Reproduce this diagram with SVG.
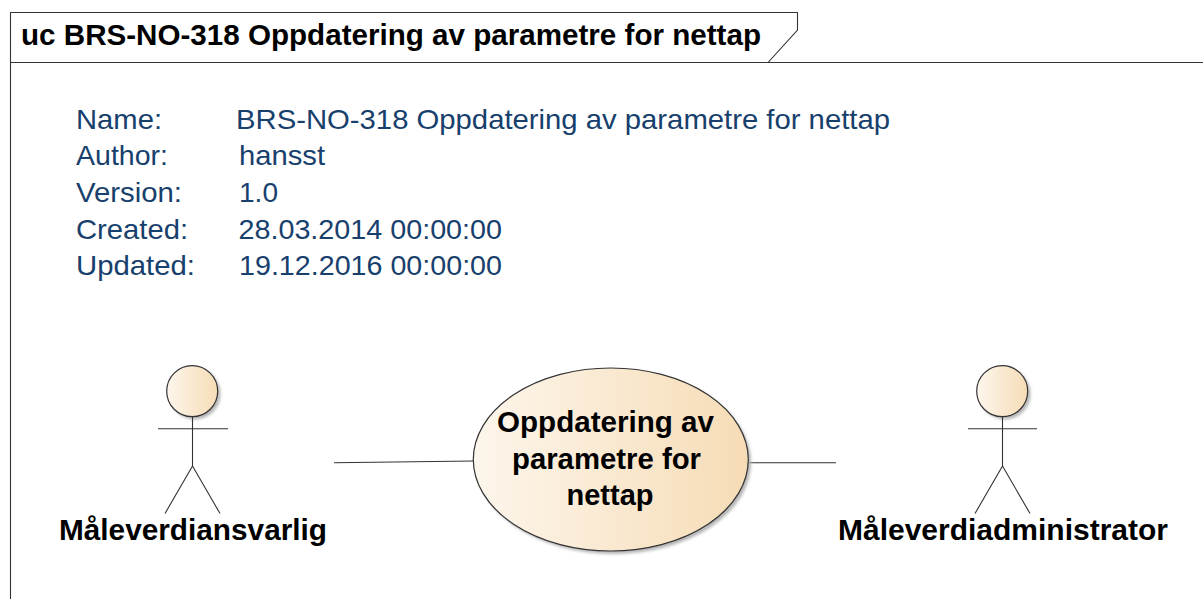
<svg xmlns="http://www.w3.org/2000/svg" width="1203" height="599" viewBox="0 0 1203 599">
<defs>
<linearGradient id="g" x1="0" x2="1" y1="0" y2="0"><stop offset="0" stop-color="#fdf6ec"/><stop offset="1" stop-color="#f6dcb6"/></linearGradient>
<filter id="blur" x="-20%" y="-20%" width="140%" height="140%"><feGaussianBlur stdDeviation="1.500"/></filter>
</defs>
<style>
.l{fill:none;stroke:#333;stroke-width:1.100}
.s{fill:url(#g);stroke:#333;stroke-width:1.200}
.h{fill:#b5b5b5;filter:url(#blur)}
.m{font-family:"Liberation Sans",Arial,sans-serif;font-size:28.500px;fill:#17406d}
.b{font-family:"Liberation Sans",Arial,sans-serif;font-size:29px;font-weight:bold;fill:#000}
</style>
<rect width="1203" height="599" fill="#fff"/>
<g id="frame">
<path class="l" d="M10.500 599V12.500H797.500V30L768 62.500H10.500M768 62.500H1203"/>
<text class="b" x="21" y="45" textLength="740" lengthAdjust="spacingAndGlyphs">uc BRS-NO-318 Oppdatering av parametre for nettap</text>
</g>
<g id="notes">
<text class="m" x="76" y="128.500" textLength="86" lengthAdjust="spacingAndGlyphs">Name:</text><text class="m" x="236" y="128.500" textLength="654" lengthAdjust="spacingAndGlyphs">BRS-NO-318 Oppdatering av parametre for nettap</text>
<text class="m" x="76" y="165" textLength="92" lengthAdjust="spacingAndGlyphs">Author:</text><text class="m" x="239" y="165" textLength="86" lengthAdjust="spacingAndGlyphs">hansst</text>
<text class="m" x="76" y="202" textLength="106" lengthAdjust="spacingAndGlyphs">Version:</text><text class="m" x="239" y="202" textLength="39" lengthAdjust="spacingAndGlyphs">1.0</text>
<text class="m" x="76" y="238.500" textLength="112" lengthAdjust="spacingAndGlyphs">Created:</text><text class="m" x="238.500" y="238.500" textLength="263.500" lengthAdjust="spacingAndGlyphs">28.03.2014 00:00:00</text>
<text class="m" x="76" y="275" textLength="119" lengthAdjust="spacingAndGlyphs">Updated:</text><text class="m" x="239" y="275" textLength="263" lengthAdjust="spacingAndGlyphs">19.12.2016 00:00:00</text>
</g>
<g id="connectors">
<path class="l" d="M334 462.700L474 461M748 462.700H836"/>
</g>
<g id="actor1">
<circle class="h" cx="195" cy="394" r="25.500"/>
<circle class="s" cx="192.200" cy="391.200" r="25.500"/>
<path class="l" d="M192.500 416.700V466M158 428.700H228M192.500 466L165 513.500M192.500 466L220 513.500"/>
<text class="b" x="59" y="540" textLength="268" lengthAdjust="spacingAndGlyphs">Måleverdiansvarlig</text>
</g>
<g id="usecase">
<ellipse class="h" cx="613.500" cy="462.500" rx="137.500" ry="91.500"/>
<ellipse class="s" cx="610.800" cy="459.500" rx="137.500" ry="91.500"/>
<text class="b" x="497" y="432" textLength="217" lengthAdjust="spacingAndGlyphs">Oppdatering av</text>
<text class="b" x="512" y="469" textLength="189" lengthAdjust="spacingAndGlyphs">parametre for</text>
<text class="b" x="566.500" y="505" textLength="87" lengthAdjust="spacingAndGlyphs">nettap</text>
</g>
<g id="actor2">
<circle class="h" cx="1005" cy="394" r="25.500"/>
<circle class="s" cx="1002.200" cy="391.200" r="25.500"/>
<path class="l" d="M1002.500 416.700V466M968 428.700H1037M1002.500 466L975 513.500M1002.500 466L1030 513.500"/>
<text class="b" x="838" y="540" textLength="330" lengthAdjust="spacingAndGlyphs">Måleverdiadministrator</text>
</g>
</svg>
